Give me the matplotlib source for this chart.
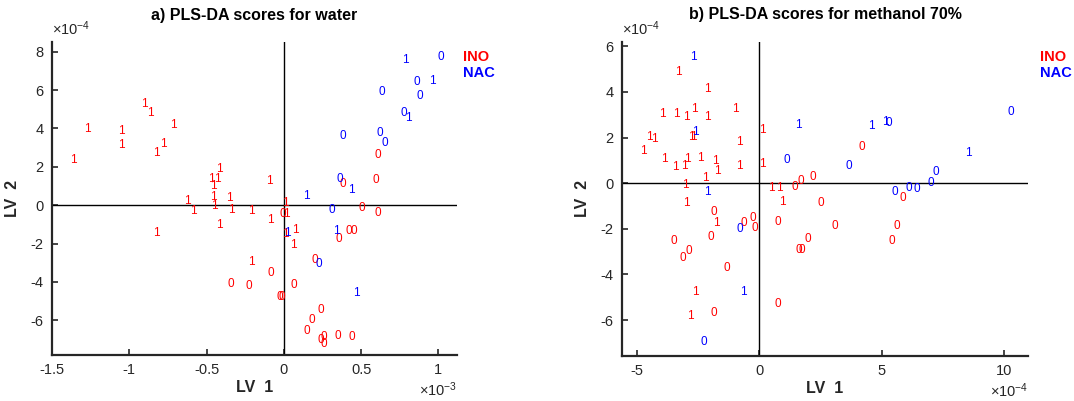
import numpy as np
import matplotlib
matplotlib.use("Agg")
import matplotlib.pyplot as plt
from matplotlib.ticker import FuncFormatter

plt.rcParams["font.family"] = ["Liberation Sans", "DejaVu Sans"]
plt.rcParams["mathtext.fontset"] = "custom"
plt.rcParams["mathtext.rm"] = "Liberation Sans"
plt.rcParams["mathtext.it"] = "Liberation Sans:italic"
plt.rcParams["mathtext.bf"] = "Liberation Sans:bold"
plt.rcParams["axes.unicode_minus"] = False

red = "#ff0000"
blue = "#0000ff"
grey = "#262626"

# a) water  (LV1 in 1e-3, LV2 in 1e-4)
a_x = [-1.364, -1.273, -1.049, -1.049, -0.902, -0.863, -0.716, -0.781, -0.824,
       -0.414, -0.466, -0.429, -0.458, -0.621, -0.583, -0.453, -0.449, -0.350,
       -0.337, -0.207, -0.095, -0.824, -0.207, -0.414, 0.013, -0.086, 0.017,
       0.013, 0.076, 0.065, -0.345, -0.229, -0.086, -0.004, 0.503, 0.606,
       0.358, 0.423, 0.453, 0.201, -0.026, -0.010, 0.065, 0.239, 0.183, 0.147,
       0.239, 0.259, 0.259, 0.352, 0.442, 0.610, 0.595, 0.380,
       0.788, 1.014, 0.859, 0.960, 0.880, 0.634, 0.777, 0.809, 0.384, 0.621,
       0.652, 0.362, 0.434, 0.147, 0.311, 0.024, 0.337, 0.229, 0.470]
a_y = [2.35, 3.97, 3.86, 3.12, 5.27, 4.82, 4.16, 3.19, 2.70,
       1.88, 1.39, 1.39, 1.01, 0.21, -0.31, 0.43, -0.04, 0.35,
       -0.26, -0.31, 1.25, -1.44, -2.96, -1.01, 0.10, -0.78, -0.47,
       -1.48, -1.27, -2.05, -4.13, -4.21, -3.53, -0.47, -0.12, -0.43,
       -1.78, -1.34, -1.34, -2.84, -4.79, -4.79, -4.14, -5.48, -5.97, -6.53,
       -7.05, -6.88, -7.22, -6.84, -6.88, 2.61, 1.31, 1.08,
       7.57, 7.71, 6.44, 6.49, 5.69, 5.89, 4.79, 4.56, 3.60, 3.74,
       3.22, 1.36, 0.78, 0.47, -0.23, -1.43, -1.36, -3.08, -4.58]
a_lab = ["1"] * 30 + ["0"] * 24 + ["1", "0", "0", "1", "0", "0", "0", "1", "0", "0",
                                    "0", "0", "1", "1", "0", "1", "1", "0", "1"]
a_grp = ["INO"] * 54 + ["NAC"] * 19

# b) methanol 70%  (LV1 in 1e-4, LV2 in 1e-4)
b_x = [-3.31, -2.12, -3.96, -3.39, -2.96, -2.65, -2.12, -0.96, -2.78, -2.69,
       -4.49, -4.26, -4.72, -0.81, 0.12, -3.88, -2.93, -3.43, -3.05, -2.42,
       -1.80, -1.69, -0.81, 0.14, -2.21, -3.01, 0.50, 0.81, 0.94, -2.99,
       -1.76, -2.61, -2.79,
       1.45, 1.69, -1.87, 2.17, 2.51, 4.17, 5.84, 3.07, 1.97, 1.63, 1.74,
       5.62, 5.41, -0.62, -0.27, -0.20, 0.75, -3.50, -1.97, -2.89, -3.10,
       -1.33, 0.75, -1.87,
       -2.69, -2.61, 1.60, 1.14, -2.10, 3.67, 4.59, 5.16, 5.27, 10.25, 8.55,
       7.21, 6.99, 5.53, 6.11, 6.44, -0.79, -0.65, -2.25]
b_y = [4.89, 4.12, 3.04, 3.03, 2.89, 3.26, 2.92, 3.26, 2.02, 2.02,
       2.04, 1.94, 1.43, 1.80, 2.31, 1.05, 1.05, 0.73, 0.77, 1.12,
       0.99, 0.55, 0.77, 0.85, 0.22, -0.07, -0.22, -0.22, -0.81, -0.88,
       -1.75, -4.75, -5.82,
       -0.18, 0.10, -1.25, 0.29, -0.85, 1.59, -0.66, -1.86, -2.44, -2.93, -2.93,
       -1.87, -2.53, -1.75, -1.54, -1.97, -1.68, -2.53, -2.37, -2.96, -3.29,
       -3.73, -5.29, -5.70,
       5.53, 2.26, 2.56, 1.02, -0.37, 0.77, 2.51, 2.70, 2.63, 3.10, 1.34,
       0.51, 0.00, -0.39, -0.19, -0.26, -2.02, -4.75, -6.97]
b_lab = ["1"] * 33 + ["0"] * 24 + ["1", "1", "1", "0", "1", "0", "1", "1", "0", "0", "1",
                                    "0", "0", "0", "0", "0", "0", "1", "0"]
b_grp = ["INO"] * 57 + ["NAC"] * 19

colors = {"INO": red, "NAC": blue}


def draw(ax, xs, ys, labs, grps, xexp, xlim, ylim, xticks, yticks, title, legx):
    xscale = 10.0 ** xexp
    xs = np.array(xs) * xscale
    ys = np.array(ys) * 1e-4
    for x, y, t, g in zip(xs, ys, labs, grps):
        ax.text(x, y, t, color=colors[g], fontsize=8.5, ha="center", va="center")
    ax.axhline(0, color="black", lw=1)
    ax.axvline(0, color="black", lw=1)
    ax.set_xlim(*xlim)
    ax.set_ylim(*ylim)
    ax.set_xticks(np.array(xticks) * xscale)
    ax.set_yticks(np.array(yticks) * 1e-4)
    ax.xaxis.set_major_formatter(FuncFormatter(lambda v, p: f"{v / xscale:g}"))
    ax.yaxis.set_major_formatter(FuncFormatter(lambda v, p: f"{v / 1e-4:g}"))
    ax.text(0.0, 1.012, r"$\times10^{-4}$", transform=ax.transAxes, ha="left",
            va="bottom", fontsize=10.5, color=grey)
    ax.text(1.0, -0.083, r"$\times10^{%d}$" % xexp, transform=ax.transAxes,
            ha="right", va="top", fontsize=10.5, color=grey)
    for s in ["top", "right"]:
        ax.spines[s].set_visible(False)
    for s in ["left", "bottom"]:
        ax.spines[s].set_linewidth(1.6)
        ax.spines[s].set_color(grey)
    ax.tick_params(direction="in", length=4, width=1.2, labelsize=10.5,
                   colors=grey, pad=6)
    ax.set_title(title, fontsize=11.5, fontweight="bold", pad=16)
    ax.set_xlabel("LV  1", fontsize=11.5, fontweight="bold", color=grey,
                  labelpad=2)
    ax.set_ylabel("LV  2", fontsize=11.5, fontweight="bold", color=grey,
                  labelpad=8)
    ax.text(legx, 0.952, "INO", color=red, fontsize=10.5, fontweight="bold",
            transform=ax.transAxes, va="center")
    ax.text(legx, 0.901, "NAC", color=blue, fontsize=10.5, fontweight="bold",
            transform=ax.transAxes, va="center")


fig = plt.figure(figsize=(10.74, 4.01), dpi=100)
ax1 = fig.add_axes([0.0484, 0.115, 0.377, 0.780])
ax2 = fig.add_axes([0.5791, 0.113, 0.378, 0.783])

draw(ax1, a_x, a_y, a_lab, a_grp, -3, (-1.5e-3, 1.12e-3), (-7.8e-4, 8.5e-4),
     [-1.5, -1, -0.5, 0, 0.5, 1], [-6, -4, -2, 0, 2, 4, 6, 8],
     "a) PLS-DA scores for water", 1.015)
draw(ax2, b_x, b_y, b_lab, b_grp, -4, (-5.6e-4, 10.96e-4), (-7.56e-4, 6.2e-4),
     [-5, 0, 5, 10], [-6, -4, -2, 0, 2, 4, 6],
     "b) PLS-DA scores for methanol 70%", 1.03)

fig.savefig("out.png", dpi=100)
